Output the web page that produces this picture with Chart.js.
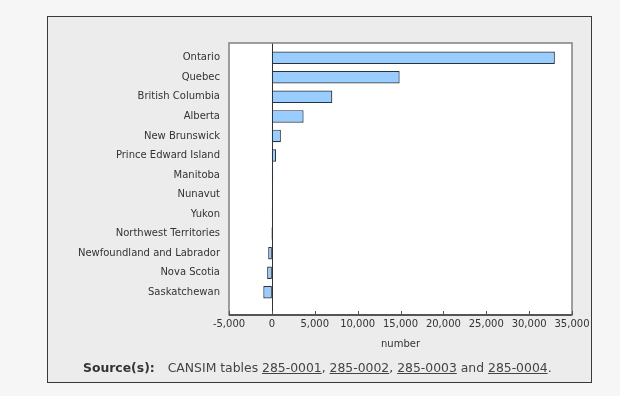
<!DOCTYPE html>
<html>
<head>
<meta charset="utf-8">
<script src="https://cdn.jsdelivr.net/npm/chart.js@4"></script>
<style>
    body { margin: 0; background: #f6f6f6; width: 620px; height: 396px; overflow: hidden; font-family: "DejaVu Sans", Verdana, sans-serif; }
    #panel { position: absolute; left: 47px; top: 16px; width: 543px; height: 365px; background: #ececec; border: 1px solid #3a3a3a; }
    #chartBox { position: absolute; left: 0; top: 0; width: 620px; height: 396px; }
    #source { position: absolute; left: 83px; top: 360px; font-size: 12.4px; color: #444; white-space: nowrap; }
    #source b { color: #333; margin-right: 9px; }
    #source a { color: #444; text-decoration: underline; }
</style>
</head>
<body>
<div id="panel"></div>
<div id="chartBox"><canvas id="migrationChart" width="620" height="396"></canvas></div>
<div id="source"><b>Source(s):</b> CANSIM tables <a href="#">285-0001</a>, <a href="#">285-0002</a>, <a href="#">285-0003</a> and <a href="#">285-0004</a>.</div>
<script>
// 数据
const provinces = ['Ontario', 'Quebec', 'British Columbia', 'Alberta', 'New Brunswick', 'Prince Edward Island',
    'Manitoba', 'Nunavut', 'Yukon', 'Northwest Territories', 'Newfoundland and Labrador', 'Nova Scotia', 'Saskatchewan'];
const values = [33000, 14900, 7050, 3700, 1050, 480, 150, 30, -20, -60, -430, -550, -1000];
const xTicks = [-5000, 0, 5000, 10000, 15000, 20000, 25000, 30000, 35000];
const xTitle = 'number';

// 画框、零线和刻度 (刻度在图内)
const framePlugin = {
    id: 'frame',
    beforeDatasetsDraw(chart) {
        const { ctx, chartArea: a, scales: { x } } = chart;
        const top = a.top - 5, bottom = a.bottom + 13;
        ctx.save();
        ctx.fillStyle = '#ffffff';
        ctx.fillRect(a.left, top, a.right - a.left, bottom - top);
        // zero line
        const x0 = Math.round(x.getPixelForValue(0)) + 0.5;
        ctx.strokeStyle = '#333';
        ctx.lineWidth = 1;
        ctx.beginPath();
        ctx.moveTo(x0, top);
        ctx.lineTo(x0, bottom);
        ctx.stroke();
        ctx.restore();
    },
    afterDatasetsDraw(chart) {
        const { ctx, chartArea: a, scales: { x } } = chart;
        const top = a.top - 5, bottom = a.bottom + 13;
        ctx.save();
        // frame
        ctx.strokeStyle = '#808080';
        ctx.lineWidth = 1.5;
        ctx.strokeRect(a.left, top, a.right - a.left, bottom - top);
        // bottom axis + ticks
        ctx.strokeStyle = '#555';
        ctx.lineWidth = 2;
        ctx.beginPath();
        ctx.moveTo(a.left, bottom);
        ctx.lineTo(a.right, bottom);
        ctx.stroke();
        ctx.lineWidth = 1;
        xTicks.forEach(v => {
            const px = Math.round(x.getPixelForValue(v)) + 0.5;
            ctx.beginPath();
            ctx.moveTo(px, bottom);
            ctx.lineTo(px, bottom - 4);
            ctx.stroke();
        });
        ctx.restore();
    }
};

new Chart(document.getElementById('migrationChart'), {
    type: 'bar',
    data: {
        labels: provinces,
        datasets: [{
            data: values,
            backgroundColor: '#99ccff',
            borderColor: '#263340',
            borderWidth: 1.2,
            borderSkipped: false,
            barPercentage: 0.64,
            categoryPercentage: 1
        }]
    },
    options: {
        indexAxis: 'y',
        responsive: false,
        animation: false,
        layout: { padding: { top: 48, right: 48, bottom: 42, left: 0 } },
        scales: {
            x: {
                min: -5000,
                max: 35000,
                afterBuildTicks: s => { s.ticks = xTicks.map(v => ({ value: v })); },
                afterFit: s => { s.height = 52; },
                grid: { display: false, drawTicks: false },
                border: { display: false },
                ticks: {
                    padding: 16,
                    color: '#333',
                    font: { family: 'DejaVu Sans', size: 10 },
                    maxRotation: 0,
                    callback: v => v.toLocaleString('en-US')
                },
                title: {
                    display: true,
                    text: xTitle,
                    color: '#333',
                    font: { family: 'DejaVu Sans', size: 10 },
                    padding: { top: 4, bottom: 4 }
                }
            },
            y: {
                afterFit: s => { s.width = 229; },
                grid: { display: false, drawTicks: false },
                border: { display: false },
                ticks: {
                    padding: 9,
                    color: '#333',
                    font: { family: 'DejaVu Sans', size: 10 }
                }
            }
        },
        plugins: {
            legend: { display: false },
            tooltip: { enabled: false }
        }
    },
    plugins: [framePlugin]
});
</script>
</body>
</html>
